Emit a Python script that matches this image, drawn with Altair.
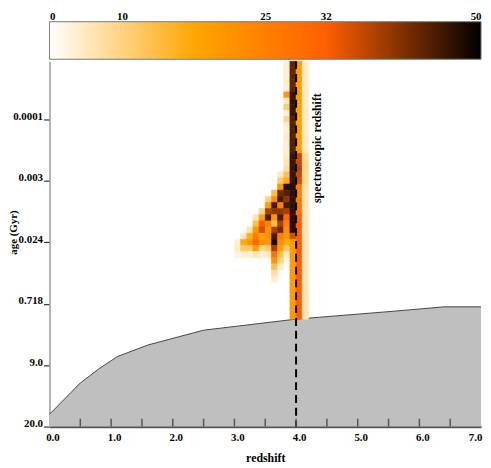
import json
import altair as alt
import pandas as pd

# ---------------- data ----------------
cbar_ticks = [0, 10, 25, 32, 50]
cmap_values = [0, 17, 32, 50]
cmap_colors = ["#ffffff", "#ffa500", "#ff5f00", "#000000"]

age_positions = [0, 1, 2, 3, 4, 5]
age_labels = ["20.0", "9.0", "0.718", "0.024", "0.003", "0.0001"]
x_label_values = [0, 1, 2, 3, 4, 5, 6, 7]
x_minor_ticks = [0.5, 1.0, 1.5, 2.0, 2.5, 3.0, 3.5, 4.0, 4.5, 5.0, 5.5, 6.0, 6.5]

spec_z = 4.0
spec_label = "spectroscopic redshift"

# upper edge of the grey (forbidden) region
boundary_z = [0.0, 0.5, 0.8, 1.1, 1.6, 2.5, 4.0, 5.6, 6.4, 7.0]
boundary_u = [0.20, 0.71, 0.94, 1.14, 1.33, 1.57, 1.75, 1.88, 1.95, 1.95]

# heat-map grid (redshift bins of 0.1, age rows of 0.1 axis units from the top)
bin_w = 0.1
row_h = 0.1
top_u = 5.95

col_z = [3.0, 3.1, 3.2, 3.3, 3.4, 3.5, 3.6, 3.7, 3.8, 3.9, 4.0, 4.1]
col_start = [29, 28, 27, 25, 24, 22, 21, 18, 0, 0, 0, 0]
z30 = [3, 4, 2]
z31 = [4, 16, 10, 3]
z32 = [5, 15, 20, 10, 3]
z33 = [5, 12, 20, 25, 30, 18, 5]
z34 = [8, 18, 32, 35, 18, 22, 8, 3]
z35 = [8, 18, 38, 45, 25, 20, 22, 20, 10, 4]
z36 = [12, 22, 45, 40, 20, 12, 38, 45, 48, 38, 28, 20, 12, 6, 3]
z37 = [4, 10, 20, 42, 45, 25, 40, 45, 38, 42, 25, 22, 18, 12, 8, 3]
z38 = [3, 3, 3, 4, 3, 20, 4, 10, 3, 8, 3, 3, 4, 3, 3, 4, 5, 6, 12, 16,
       47, 44, 40, 45, 38, 30, 25, 22, 20, 16, 10, 4]
z39 = [43, 43, 43, 43, 43, 46, 46, 46, 46, 44, 44, 44, 44, 44, 44, 46, 46, 46, 46, 46,
       47, 47, 47, 47, 47, 47, 47, 47, 35, 19, 19, 19, 19, 19, 19, 19, 19, 19, 19, 19,
       19, 19]
z40 = [18, 18, 18, 18, 18, 18, 18, 18, 18, 18, 18, 18, 18, 18, 18, 36, 36, 37, 36, 35,
       26, 25, 26, 27, 28, 31, 32, 32, 32, 32, 32, 32, 32, 32, 32, 32, 32, 32, 32, 32,
       32, 32]
z41 = [4, 4, 4, 4, 4, 4, 4, 4, 4, 4, 4, 4, 4, 4, 4, 7, 7, 8, 7, 7,
       6, 5, 5, 5, 5, 5, 5, 5, 5, 5, 5, 5, 5, 5, 5, 5, 5, 5, 5, 5,
       5, 5]
col_values = [z30, z31, z32, z33, z34, z35, z36, z37, z38, z39, z40, z41]

# ---------------- tables ----------------
cells = []
for z, start, vals in zip(col_z, col_start, col_values):
    for i, v in enumerate(vals):
        r = start + i
        u1 = top_u - row_h * r
        cells.append({"z0": z, "z1": z + bin_w, "u0": u1 - row_h, "u1": u1, "v": v})
cells_df = pd.DataFrame(cells)
bound_df = pd.DataFrame({"z": boundary_z, "u": boundary_u, "base": [0] * len(boundary_z)})
ticks_df = pd.DataFrame({"t": x_minor_ticks})
spec_df = pd.DataFrame({"z": [spec_z], "label": [spec_label]})
cbar_df = pd.DataFrame({"lo": [cbar_ticks[0]], "hi": [cbar_ticks[-1]]})

# ---------------- chart ----------------
W, H = 437, 370
FONT = "Liberation Serif"
xscale = alt.Scale(domain=[0, 7], nice=False, zero=False)
yscale = alt.Scale(domain=[0, top_u], nice=False, zero=False)
color_scale = alt.Scale(domain=cmap_values, range=cmap_colors, interpolate="rgb")

x_axis = alt.Axis(
    values=x_label_values, format=".1f", title="redshift", ticks=False,
    domainColor="#555555", domainWidth=2.5, labelPadding=5, titlePadding=10,
    grid=False, labelFlush=False,
    labelOffset={"condition": {"test": "datum.value == 7", "value": -6}, "value": 3},
    titleFontSize=12,
)
y_axis = alt.Axis(values=age_positions,
                  labelExpr=json.dumps(age_labels).replace('"', "'") + "[datum.value]",
                  title="age (Gyr)", tickSize=6, tickColor="#333333", tickWidth=1.2,
                  domainColor="#999999", domainWidth=1.5, labelPadding=1,
                  labelBaseline="alphabetic", titleX=-36, titleY=173,
                  titleBaseline="middle", titleAlign="center", grid=False,
                  titleFontSize=11)

area = alt.Chart(bound_df).mark_area(color="#bfbfbf").encode(
    x=alt.X("z:Q", scale=xscale, axis=x_axis),
    y=alt.Y("u:Q", scale=yscale, axis=y_axis),
    y2="base:Q",
)
edge = alt.Chart(bound_df).mark_line(color="#444444", strokeWidth=1).encode(
    x=alt.X("z:Q", scale=xscale), y=alt.Y("u:Q", scale=yscale)
)
heat = alt.Chart(cells_df).mark_rect(strokeWidth=0.6).encode(
    x=alt.X("z0:Q", scale=xscale),
    x2="z1:Q",
    y=alt.Y("u0:Q", scale=yscale),
    y2="u1:Q",
    color=alt.Color("v:Q", scale=color_scale, legend=None),
    stroke=alt.Color("v:Q", scale=color_scale, legend=None),
)
dash = alt.Chart(spec_df).mark_rule(color="black", strokeDash=[8, 5], strokeWidth=2).encode(
    x=alt.X("z:Q", scale=xscale)
)
minor = alt.Chart(ticks_df).mark_rule(color="#555555", strokeWidth=1.5).encode(
    x=alt.X("t:Q", scale=xscale), y=alt.value(H), y2=alt.value(H - 8)
)
label = alt.Chart(spec_df).mark_text(angle=270, font=FONT, fontWeight="bold", fontSize=12,
                                     xOffset=21, color="black").encode(
    x=alt.X("z:Q", scale=xscale), y=alt.value(88), text="label:N"
)
main = alt.layer(area, edge, heat, dash, minor, label).properties(width=W, height=H)

grad = alt.Gradient(
    gradient="linear",
    stops=[alt.GradientStop(color=c, offset=v / cbar_ticks[-1]) for v, c in zip(cmap_values, cmap_colors)],
    x1=0, x2=1, y1=0, y2=0,
)
cbar = alt.Chart(cbar_df).mark_rect(fill=grad, stroke="#777777", strokeWidth=1).encode(
    x=alt.X("lo:Q", scale=alt.Scale(domain=[cbar_ticks[0], cbar_ticks[-1]], nice=False),
            axis=alt.Axis(orient="top", values=cbar_ticks, ticks=False, domain=False,
                          labelFlush=True, labelPadding=0, title=None, grid=False,
                          labelOffset={"condition": {"test": "datum.value == 10", "value": -14},
                                       "value": 0})),
    x2="hi:Q",
).properties(width=W, height=38)

chart = alt.vconcat(cbar, main, spacing=0).configure(
    padding={"left": 0, "top": 0, "right": 0, "bottom": 0}
).configure_axis(
    labelFont=FONT, labelFontWeight="bold", labelFontSize=11, labelColor="black",
    titleFont=FONT, titleFontWeight="bold", titleColor="black",
).configure_view(strokeWidth=0)

chart.save("out.html", embed_options={"renderer": "svg", "actions": False})
